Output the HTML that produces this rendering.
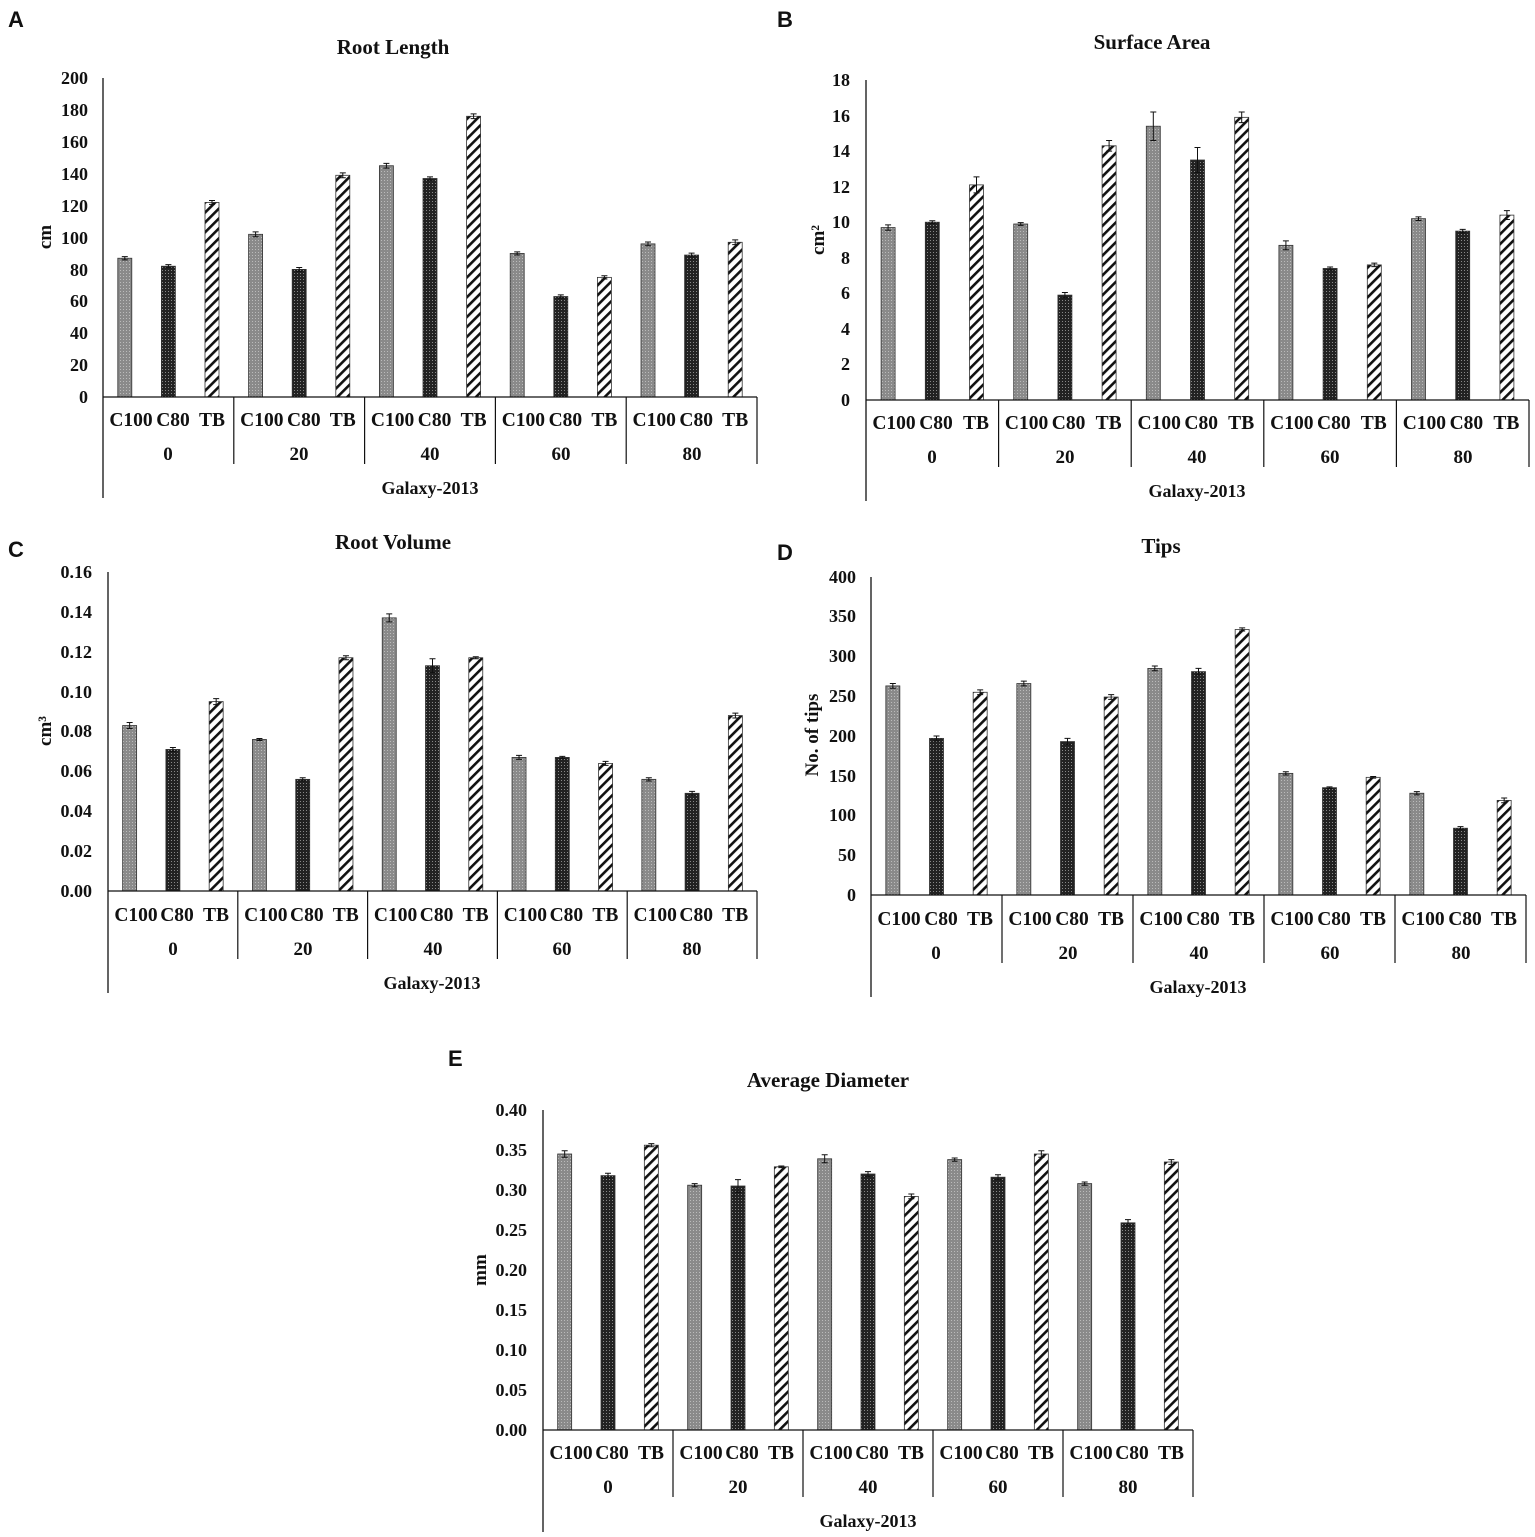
<!DOCTYPE html>
<html><head><meta charset="utf-8"><style>
html,body{margin:0;padding:0;background:#fff}
svg{display:block}
text{font-family:"Liberation Serif",serif;font-weight:bold;fill:#111}
.t{font-size:21px}
.y{font-size:18px;text-anchor:end}
.c{font-size:19.5px}
.c text{text-anchor:middle}
.g{font-size:19px;text-anchor:middle}
.x{font-size:18px;text-anchor:middle}
.L{font-family:"Liberation Sans",sans-serif;font-size:22px}
</style></head><body>
<svg id="s" width="1535" height="1537" viewBox="0 0 1535 1537" xmlns="http://www.w3.org/2000/svg">
<defs>
<pattern id="p1" width="3" height="3" patternUnits="userSpaceOnUse"><rect width="3" height="3" fill="#8a8a8a"/><rect width="1" height="1" fill="#bbb"/></pattern>
<pattern id="p2" width="3" height="3" patternUnits="userSpaceOnUse"><rect width="3" height="3" fill="#222"/><rect width="1" height="1" fill="#888"/></pattern>
<pattern id="p3" width="7" height="7" patternUnits="userSpaceOnUse" patternTransform="rotate(45)"><rect width="7" height="7" fill="#fff"/><rect width="2.6" height="7" fill="#111"/></pattern>
</defs>
<g id="shapes"></g>
<!-- Panel A -->
<text class="L" x="8" y="27">A</text>
<text class="t" x="393" y="54" text-anchor="middle">Root Length</text>
<text class="y" x="88" y="403">0</text><text class="y" x="88" y="371">20</text><text class="y" x="88" y="339">40</text><text class="y" x="88" y="307">60</text><text class="y" x="88" y="276">80</text><text class="y" x="88" y="244">100</text><text class="y" x="88" y="212">120</text><text class="y" x="88" y="180">140</text><text class="y" x="88" y="148">160</text><text class="y" x="88" y="116">180</text><text class="y" x="88" y="84">200</text>
<text class="t" transform="translate(51,237) rotate(-90)" text-anchor="middle" style="font-size:19px">cm</text>
<g class="c" transform="translate(103,426)"><text x="28">C100</text><text x="70">C80</text><text x="109">TB</text></g>
<g class="c" transform="translate(233.8,426)"><text x="28">C100</text><text x="70">C80</text><text x="109">TB</text></g>
<g class="c" transform="translate(364.6,426)"><text x="28">C100</text><text x="70">C80</text><text x="109">TB</text></g>
<g class="c" transform="translate(495.4,426)"><text x="28">C100</text><text x="70">C80</text><text x="109">TB</text></g>
<g class="c" transform="translate(626.2,426)"><text x="28">C100</text><text x="70">C80</text><text x="109">TB</text></g>
<text class="g" x="168" y="460">0</text><text class="g" x="299" y="460">20</text><text class="g" x="430" y="460">40</text><text class="g" x="561" y="460">60</text><text class="g" x="692" y="460">80</text>
<text class="x" x="430" y="494">Galaxy-2013</text>
<!-- Panel B -->
<text class="L" x="777" y="27">B</text>
<text class="t" x="1152" y="49" text-anchor="middle">Surface Area</text>
<text class="y" x="850" y="406">0</text><text class="y" x="850" y="370">2</text><text class="y" x="850" y="335">4</text><text class="y" x="850" y="299">6</text><text class="y" x="850" y="264">8</text><text class="y" x="850" y="228">10</text><text class="y" x="850" y="193">12</text><text class="y" x="850" y="157">14</text><text class="y" x="850" y="122">16</text><text class="y" x="850" y="86">18</text>
<text class="t" transform="translate(824,240) rotate(-90)" text-anchor="middle" style="font-size:19px">cm²</text>
<g class="c" transform="translate(866,429)"><text x="28">C100</text><text x="70">C80</text><text x="110">TB</text></g>
<g class="c" transform="translate(998.6,429)"><text x="28">C100</text><text x="70">C80</text><text x="110">TB</text></g>
<g class="c" transform="translate(1131.2,429)"><text x="28">C100</text><text x="70">C80</text><text x="110">TB</text></g>
<g class="c" transform="translate(1263.8,429)"><text x="28">C100</text><text x="70">C80</text><text x="110">TB</text></g>
<g class="c" transform="translate(1396.4,429)"><text x="28">C100</text><text x="70">C80</text><text x="110">TB</text></g>
<text class="g" x="932" y="463">0</text><text class="g" x="1065" y="463">20</text><text class="g" x="1197" y="463">40</text><text class="g" x="1330" y="463">60</text><text class="g" x="1463" y="463">80</text>
<text class="x" x="1197" y="497">Galaxy-2013</text>
<!-- Panel C -->
<text class="L" x="8" y="557">C</text>
<text class="t" x="393" y="549" text-anchor="middle">Root Volume</text>
<text class="y" x="92" y="897">0.00</text><text class="y" x="92" y="857">0.02</text><text class="y" x="92" y="817">0.04</text><text class="y" x="92" y="777">0.06</text><text class="y" x="92" y="737">0.08</text><text class="y" x="92" y="698">0.10</text><text class="y" x="92" y="658">0.12</text><text class="y" x="92" y="618">0.14</text><text class="y" x="92" y="578">0.16</text>
<text class="t" transform="translate(51,731) rotate(-90)" text-anchor="middle" style="font-size:19px">cm³</text>
<g class="c" transform="translate(108,921)"><text x="28">C100</text><text x="69">C80</text><text x="108">TB</text></g>
<g class="c" transform="translate(237.8,921)"><text x="28">C100</text><text x="69">C80</text><text x="108">TB</text></g>
<g class="c" transform="translate(367.6,921)"><text x="28">C100</text><text x="69">C80</text><text x="108">TB</text></g>
<g class="c" transform="translate(497.4,921)"><text x="28">C100</text><text x="69">C80</text><text x="108">TB</text></g>
<g class="c" transform="translate(627.2,921)"><text x="28">C100</text><text x="69">C80</text><text x="108">TB</text></g>
<text class="g" x="173" y="955">0</text><text class="g" x="303" y="955">20</text><text class="g" x="433" y="955">40</text><text class="g" x="562" y="955">60</text><text class="g" x="692" y="955">80</text>
<text class="x" x="432" y="989">Galaxy-2013</text>
<!-- Panel D -->
<text class="L" x="777" y="560">D</text>
<text class="t" x="1161" y="553" text-anchor="middle">Tips</text>
<text class="y" x="856" y="901">0</text><text class="y" x="856" y="861">50</text><text class="y" x="856" y="821">100</text><text class="y" x="856" y="782">150</text><text class="y" x="856" y="742">200</text><text class="y" x="856" y="702">250</text><text class="y" x="856" y="662">300</text><text class="y" x="856" y="622">350</text><text class="y" x="856" y="583">400</text>
<text class="t" transform="translate(818,735) rotate(-90)" text-anchor="middle" style="font-size:19px">No. of tips</text>
<g class="c" transform="translate(871,925)"><text x="28">C100</text><text x="70">C80</text><text x="109">TB</text></g>
<g class="c" transform="translate(1002,925)"><text x="28">C100</text><text x="70">C80</text><text x="109">TB</text></g>
<g class="c" transform="translate(1133,925)"><text x="28">C100</text><text x="70">C80</text><text x="109">TB</text></g>
<g class="c" transform="translate(1264,925)"><text x="28">C100</text><text x="70">C80</text><text x="109">TB</text></g>
<g class="c" transform="translate(1395,925)"><text x="28">C100</text><text x="70">C80</text><text x="109">TB</text></g>
<text class="g" x="936" y="959">0</text><text class="g" x="1068" y="959">20</text><text class="g" x="1199" y="959">40</text><text class="g" x="1330" y="959">60</text><text class="g" x="1461" y="959">80</text>
<text class="x" x="1198" y="993">Galaxy-2013</text>
<!-- Panel E -->
<text class="L" x="448" y="1066">E</text>
<text class="t" x="828" y="1087" text-anchor="middle">Average Diameter</text>
<text class="y" x="527" y="1436">0.00</text><text class="y" x="527" y="1396">0.05</text><text class="y" x="527" y="1356">0.10</text><text class="y" x="527" y="1316">0.15</text><text class="y" x="527" y="1276">0.20</text><text class="y" x="527" y="1236">0.25</text><text class="y" x="527" y="1196">0.30</text><text class="y" x="527" y="1156">0.35</text><text class="y" x="527" y="1116">0.40</text>
<text class="t" transform="translate(486,1270) rotate(-90)" text-anchor="middle" style="font-size:19px">mm</text>
<g class="c" transform="translate(543,1459)"><text x="28">C100</text><text x="69">C80</text><text x="108">TB</text></g>
<g class="c" transform="translate(673,1459)"><text x="28">C100</text><text x="69">C80</text><text x="108">TB</text></g>
<g class="c" transform="translate(803,1459)"><text x="28">C100</text><text x="69">C80</text><text x="108">TB</text></g>
<g class="c" transform="translate(933,1459)"><text x="28">C100</text><text x="69">C80</text><text x="108">TB</text></g>
<g class="c" transform="translate(1063,1459)"><text x="28">C100</text><text x="69">C80</text><text x="108">TB</text></g>
<text class="g" x="608" y="1493">0</text><text class="g" x="738" y="1493">20</text><text class="g" x="868" y="1493">40</text><text class="g" x="998" y="1493">60</text><text class="g" x="1128" y="1493">80</text>
<text class="x" x="868" y="1527">Galaxy-2013</text>
</svg>
<script>
var P=[
{x0:103,x1:757,yt:78,yb:397,max:200,sb:464,ab:498,e:[1,1,1.2,1.5,1.2,1.5,1.5,1,1.5,1,1,1,1.2,1.2,1.5],
 d:[87,82,122,102,80,139,145,137,176,90,63,75,96,89,97]},
{x0:866,x1:1529,yt:80,yb:400,max:18,sb:467,ab:501,e:[0.15,0.08,0.45,0.08,0.15,0.3,0.8,0.7,0.3,0.25,0.08,0.1,0.1,0.1,0.25],
 d:[9.7,10,12.1,9.9,5.9,14.3,15.4,13.5,15.9,8.7,7.4,7.6,10.2,9.5,10.4]},
{x0:108,x1:757,yt:572,yb:891,max:0.16,sb:959,ab:993,e:[.0015,.001,.0015,.0005,.0008,.001,.002,.0035,.0005,.001,.0005,.001,.0008,.001,.0012],
 d:[.083,.071,.095,.076,.056,.117,.137,.113,.117,.067,.067,.064,.056,.049,.088]},
{x0:871,x1:1526,yt:577,yb:895,max:400,sb:963,ab:997,e:[3,3,3,3,4,3,3,4,2,2,1,1,2,2,3],
 d:[263,197,255,266,193,249,285,281,334,153,135,148,128,84,119]},
{x0:543,x1:1193,yt:1110,yb:1430,max:0.4,sb:1497,ab:1532,e:[.004,.003,.002,.002,.008,.001,.005,.003,.003,.002,.003,.004,.002,.004,.003],
 d:[.345,.318,.356,.306,.305,.329,.339,.320,.292,.338,.316,.345,.308,.259,.335]}
];
var g=document.getElementById('shapes'),h='';
P.forEach(function(p){
 var s=(p.x1-p.x0)/15,H=p.yb-p.yt;
 p.d.forEach(function(v,i){
  var cx=p.x0+s*(i+0.5),top=p.yb-v/p.max*H,e=p.e[i]/p.max*H;
  h+='<rect x="'+(cx-7)+'" y="'+top+'" width="14" height="'+(p.yb-top)+'" fill="url(#p'+(i%3+1)+')" stroke="#333" stroke-width="0.8"/>';
  h+='<path d="M'+cx+' '+(top-e)+'V'+(top+e)+'M'+(cx-3)+' '+(top-e)+'H'+(cx+3)+'M'+(cx-3)+' '+(top+e)+'H'+(cx+3)+'" stroke="#111" stroke-width="1"/>';
 });
 h+='<path d="M'+p.x0+' '+p.yt+'V'+p.ab+'M'+p.x0+' '+p.yb+'H'+p.x1+'" stroke="#111" stroke-width="1.3" fill="none"/>';
 for(var k=1;k<=5;k++){var x=p.x0+3*s*k;h+='<path d="M'+x+' '+p.yb+'V'+p.sb+'" stroke="#111" stroke-width="1.2"/>';}
});
g.innerHTML=h;
</script>
</body></html>
